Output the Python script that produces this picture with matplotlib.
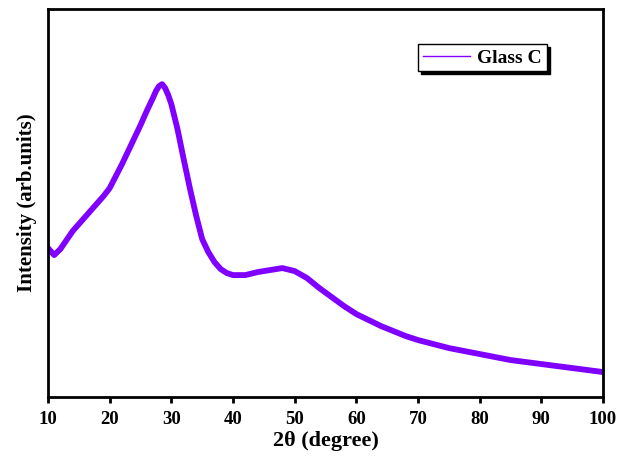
import numpy as np
import matplotlib.pyplot as plt
from matplotlib.lines import Line2D

# ---------------------------------------------
# XRD pattern of Glass C (arb. units)
# ---------------------------------------------
two_theta = [10, 11, 12, 13, 14, 15, 16, 17, 18, 19, 20, 21, 22, 23, 24, 25,
             26, 27, 27.5, 28, 28.5, 29, 29.5, 30, 31, 32, 33, 34, 35, 36, 37,
             38, 39, 40, 42, 44, 46, 48, 50, 52, 54, 56, 58, 60, 62, 64, 66,
             68, 70, 72.5, 75, 77.5, 80, 82.5, 85, 87.5, 90, 92.5, 95, 97.5, 100]
intensity = [149, 142, 148, 157, 166, 173, 180, 187, 194, 201, 209, 221, 233,
             246, 259, 272, 286, 299, 306, 311, 313, 309, 302, 293, 268, 238,
             209, 182, 158, 145, 135, 128, 124, 122, 122, 125, 127, 129, 126,
             119, 109, 100, 91, 83, 77, 71, 66, 61, 57, 53, 49, 46, 43, 40,
             37, 35, 33, 31, 29, 27, 25]

purple = "#8000ff"

plt.rcParams['font.family'] = ['Liberation Serif', 'DejaVu Serif']
plt.rcParams['font.weight'] = 'bold'

fig = plt.figure(figsize=(6.18, 4.59), dpi=100)
ax = fig.add_axes([0.0777, 0.135, 0.898, 0.845])

# noisy band approximated by a thick line
ax.plot(two_theta, intensity, color=purple, lw=4.2, solid_joinstyle='round')

ax.set_xlim(10, 100)
ax.set_ylim(0, 388)
ax.set_xticks(np.arange(10, 101, 10))
ax.set_yticks([])
ax.tick_params(axis='x', direction='out', length=4, width=2, labelsize=13.5, pad=6)
for lab in ax.get_xticklabels():
    lab.set_fontweight('bold')
for sp in ax.spines.values():
    sp.set_linewidth(2)

ax.set_xlabel("2θ (degree)", fontsize=16, fontweight='bold', labelpad=2)
ax.set_ylabel("Intensity (arb.units)", fontsize=15, fontweight='bold', labelpad=8)

# legend with solid black drop shadow
handle = Line2D([], [], color=purple, lw=1)
leg = ax.legend([handle], ["Glass C"], loc='upper right',
                bbox_to_anchor=(0.899, 0.91), borderaxespad=0,
                fancybox=False, edgecolor='black', framealpha=1,
                shadow={'color': 'black', 'alpha': 1},
                prop={'weight': 'bold', 'size': 14},
                handlelength=2.4, borderpad=0.25, handletextpad=0.4)
leg.get_frame().set_linewidth(1)

fig.savefig("out.png", dpi=100)
